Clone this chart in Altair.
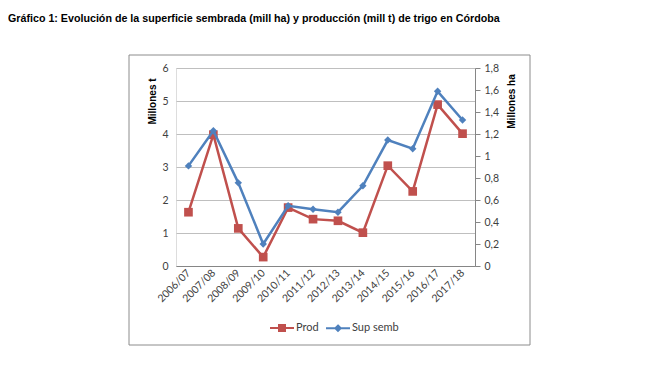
import altair as alt
import pandas as pd

# ---- data ----
campanas = ["2006/07", "2007/08", "2008/09", "2009/10", "2010/11", "2011/12",
            "2012/13", "2013/14", "2014/15", "2015/16", "2016/17", "2017/18"]
prod = [1.63, 3.98, 1.14, 0.27, 1.77, 1.42, 1.37, 1.01, 3.04, 2.26, 4.89, 4.01]
sup_semb = [0.91, 1.23, 0.756, 0.20, 0.547, 0.516, 0.489, 0.729, 1.145, 1.066, 1.588, 1.327]
series = ["Prod", "Sup semb"]
colores = ["#C0504D", "#4F81BD"]
ticks_t = [0, 1, 2, 3, 4, 5, 6]
ticks_ha = [0, 0.2, 0.4, 0.6, 0.8, 1.0, 1.2, 1.4, 1.6, 1.8]
titulo = ("Gráfico 1: Evolución de la superficie sembrada (mill ha) y "
          "producción (mill t) de trigo en Córdoba")

df_p = pd.DataFrame({"campana": campanas, "valor": prod, "serie": series[0]})
df_s = pd.DataFrame({"campana": campanas, "valor": sup_semb, "serie": series[1]})
df_box = pd.DataFrame({"k": [0]})

FONT = "Lato"
LABEL_COLOR = "#404040"
AXIS_GRAY = "#868686"

x_enc = alt.X(
    "campana:N", sort=campanas, title=None,
    scale=alt.Scale(type="point", padding=0.5),
    axis=alt.Axis(labelAngle=315, labelAlign="right", labelBaseline="middle",
                  labelPadding=5, ticks=False, domainColor=AXIS_GRAY, grid=False,
                  labelFont=FONT, labelFontSize=10.5, labelColor=LABEL_COLOR),
)

y_left = alt.Y(
    "valor:Q",
    scale=alt.Scale(domain=[0, 6], nice=False),
    axis=alt.Axis(orient="left", values=ticks_t, title="Millones t", grid=True,
                  gridColor="#BFBFBF", domain=False, ticks=False, labelPadding=8,
                  labelFont=FONT, labelFontSize=10.5, labelColor=LABEL_COLOR,
                  titleAngle=270, titleX=-24, titleY=33, titleAlign="center",
                  titleBaseline="middle", titleFont="Liberation Sans",
                  titleFontSize=10, titleFontWeight="bold", titleColor="black"),
)

y_right = alt.Y(
    "valor:Q",
    scale=alt.Scale(domain=[0, 1.8], nice=False),
    axis=alt.Axis(orient="right", values=ticks_ha, title="Millones ha", grid=False,
                  domainColor=AXIS_GRAY, tickColor=AXIS_GRAY, tickSize=5,
                  labelPadding=4, labelFont=FONT, labelFontSize=10.5,
                  labelColor=LABEL_COLOR,
                  labelExpr="replace(toString(round(datum.value*10)/10), '.', ',')",
                  titleAngle=270, titleX=36, titleY=33, titleAlign="center",
                  titleBaseline="middle", titleFont="Liberation Sans",
                  titleFontSize=10, titleFontWeight="bold", titleColor="black"),
)

path_sq = "M-1,0L1,0M-0.25,-0.25L0.25,-0.25L0.25,0.25L-0.25,0.25Z"
path_dia = "M-1,0L1,0M0,-0.22L0.22,0L0,0.22L-0.22,0Z"

leg = alt.Legend(title=None, orient="none", legendX=93, legendY=247,
                 direction="horizontal", symbolSize=576, symbolStrokeWidth=2,
                 labelFont=FONT, labelFontSize=11, labelColor=LABEL_COLOR,
                 columnPadding=3, labelOffset=1)

border = alt.Chart(df_box).mark_rect(fillOpacity=0, stroke="#8C8C8C", strokeWidth=1).encode(
    x=alt.value(-47), x2=alt.value(354), y=alt.value(-13), y2=alt.value(277)
)

prod_line = alt.Chart(df_p).mark_line(color=colores[0], strokeWidth=2.5).encode(x=x_enc, y=y_left)
prod_pts = alt.Chart(df_p).mark_point(shape="square", filled=True, size=75,
                                      color=colores[0], opacity=1).encode(x=x_enc, y=y_left)
legend_layer = alt.Chart(df_p).transform_filter("false").mark_point(
    strokeWidth=2, opacity=1
).encode(
    x=x_enc, y=y_left,
    fill=alt.Fill("serie:N", scale=alt.Scale(domain=series, range=colores), legend=leg),
    stroke=alt.Stroke("serie:N", scale=alt.Scale(domain=series, range=colores), legend=leg),
    shape=alt.Shape("serie:N", scale=alt.Scale(domain=series, range=[path_sq, path_dia]), legend=leg),
)
prod_layer = alt.layer(prod_line, prod_pts, legend_layer)

sup_line = alt.Chart(df_s).mark_line(color=colores[1], strokeWidth=2.5).encode(x=x_enc, y=y_right)
sup_pts = alt.Chart(df_s).mark_point(shape="diamond", filled=True, size=55,
                                     color=colores[1], opacity=1).encode(x=x_enc, y=y_right)
sup_layer = alt.layer(sup_line, sup_pts)

chart = alt.layer(border, prod_layer, sup_layer).resolve_scale(y="independent").properties(
    width=299, height=198,
    autosize="none",
    padding={"left": 168, "top": 60, "right": 150, "bottom": 80},
    title=alt.Title(titulo, anchor="start", frame="group", dx=-168, offset=30,
                    font="Liberation Sans", fontSize=10.7, fontWeight="bold",
                    color="black"),
).configure_view(stroke=None).configure(background="white")

chart.save("out.html", embed_options={"renderer": "svg", "actions": False})
